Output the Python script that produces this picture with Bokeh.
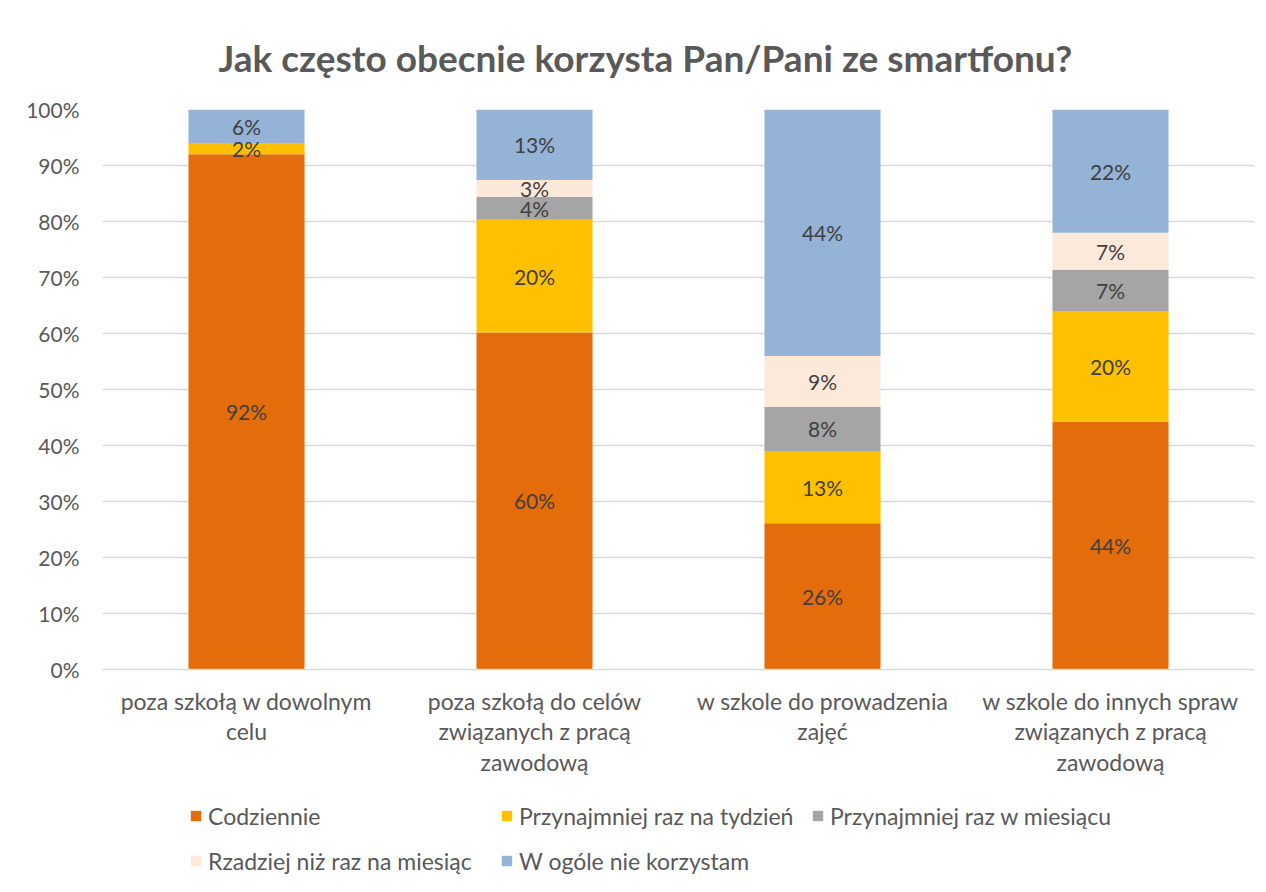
import numpy as np
from bokeh.plotting import figure
from bokeh.layouts import column
from bokeh.models import ColumnDataSource, Legend, LegendItem, FixedTicker
from bokeh.core.properties import value
from bokeh.embed import file_html
from bokeh.resources import INLINE

categories = [
    "poza szkołą w dowolnym\ncelu",
    "poza szkołą do celów\nzwiązanych z pracą\nzawodową",
    "w szkole do prowadzenia\nzajęć",
    "w szkole do innych spraw\nzwiązanych z pracą\nzawodową",
]
series_names = [
    "Codziennie",
    "Przynajmniej raz na tydzień",
    "Przynajmniej raz w miesiącu",
    "Rzadziej niż raz na miesiąc",
    "W ogóle nie korzystam",
]
codziennie = [92.0, 60.2, 26.1, 44.3]
raz_w_tygodniu = [2.0, 20.1, 12.9, 19.7]
raz_w_miesiacu = [0.0, 4.1, 7.9, 7.4]
rzadziej = [0.0, 3.0, 9.1, 6.6]
wcale = [6.0, 12.6, 44.0, 22.0]
colors = ["#E46C0A", "#FFC000", "#A5A5A5", "#FDE9D9", "#95B3D7"]
y_ticks = [0, 10, 20, 30, 40, 50, 60, 70, 80, 90, 100]

FONT = "Lato"
series = [codziennie, raz_w_tygodniu, raz_w_miesiacu, rzadziej, wcale]

p = figure(
    x_range=categories, y_range=(0, 100),
    width=1266, height=790,
    output_backend="svg", toolbar_location=None,
    min_border_left=102, min_border_right=12, min_border_top=109, min_border_bottom=121,
)
p.title.text = "Jak często obecnie korzysta Pan/Pani ze smartfonu?"
p.title.text_font = FONT
p.title.text_font_size = "37px"
p.title.text_font_style = "bold"
p.title.text_color = "#595959"
p.title.align = "left"
p.title.offset = 116
if hasattr(p.title, "standoff"):
    p.title.standoff = 60

p.outline_line_color = None
p.background_fill_color = "white"
p.border_fill_color = "white"

bottoms = np.zeros(len(categories))
label_x, label_y, label_t = [], [], []
for name, vals, col in zip(series_names, series, colors):
    vals = np.array(vals, dtype=float)
    src = ColumnDataSource(dict(x=categories, top=bottoms + vals, bottom=bottoms))
    p.vbar(x="x", top="top", bottom="bottom", width=0.403, source=src,
           fill_color=col, line_color=None)
    for c, b, v in zip(categories, bottoms, vals):
        if v > 0.5:
            label_x.append(c)
            label_y.append(b + v / 2)
            label_t.append(f"{int(round(v))}%")
    bottoms = bottoms + vals

p.text(x=label_x, y=label_y, text=label_t, text_align="center", text_baseline="middle",
       text_font=value(FONT), text_font_size="21px", text_color="#404040")

# axes
p.yaxis.ticker = FixedTicker(ticks=y_ticks)
p.yaxis.major_label_overrides = {t: f"{t}%" for t in y_ticks}
p.yaxis.axis_line_color = None
p.yaxis.major_tick_line_color = None
p.yaxis.minor_tick_line_color = None
p.yaxis.major_label_text_font = FONT
p.yaxis.major_label_text_font_size = "21px"
p.yaxis.major_label_text_color = "#595959"
p.yaxis.major_label_standoff = 17

p.xaxis.axis_line_color = "#D9D9D9"
p.xaxis.axis_line_width = 1.5
p.xaxis.major_tick_line_color = None
p.xaxis.minor_tick_line_color = None
p.xaxis.major_label_text_font = FONT
p.xaxis.major_label_text_font_size = "23px"
p.xaxis.major_label_text_color = "#595959"
p.xaxis.major_label_text_line_height = 1.1
p.xaxis.major_label_standoff = 11
p.xaxis.major_label_orientation = "horizontal"

p.xgrid.grid_line_color = None
p.ygrid.grid_line_color = "#D9D9D9"
p.ygrid.grid_line_width = 1.5

# legend strip below the chart (its frame is aligned with the chart's frame)
lg = figure(width=1266, height=102, x_range=(0, 1), y_range=(0, 1),
            output_backend="svg", toolbar_location=None,
            x_axis_type=None, y_axis_type=None,
            min_border=0, min_border_left=0, min_border_right=0,
            min_border_top=0, min_border_bottom=0)
lg.outline_line_color = None
lg.xgrid.grid_line_color = None
lg.ygrid.grid_line_color = None
items = []
for name, col in zip(series_names, colors):
    # proxy renderers, lying outside the visible range, only feed the legend
    r = lg.vbar(x=[-5], top=[-4], bottom=[-5], width=0.1, fill_color=col, line_color=None)
    items.append(LegendItem(label=name, renderers=[r]))

legend = Legend(items=items, orientation="horizontal", ncols=3,
                location=(87, 15), padding=0, margin=0, spacing=12,
                glyph_width=13, glyph_height=13, label_standoff=6,
                label_width=280, label_height=33,
                label_text_font=FONT, label_text_font_size="23px",
                label_text_color="#595959",
                border_line_color=None, background_fill_alpha=0)
lg.add_layout(legend, "center")

layout = column(p, lg, spacing=0)
open("out.html", "w").write(file_html(layout, INLINE))
